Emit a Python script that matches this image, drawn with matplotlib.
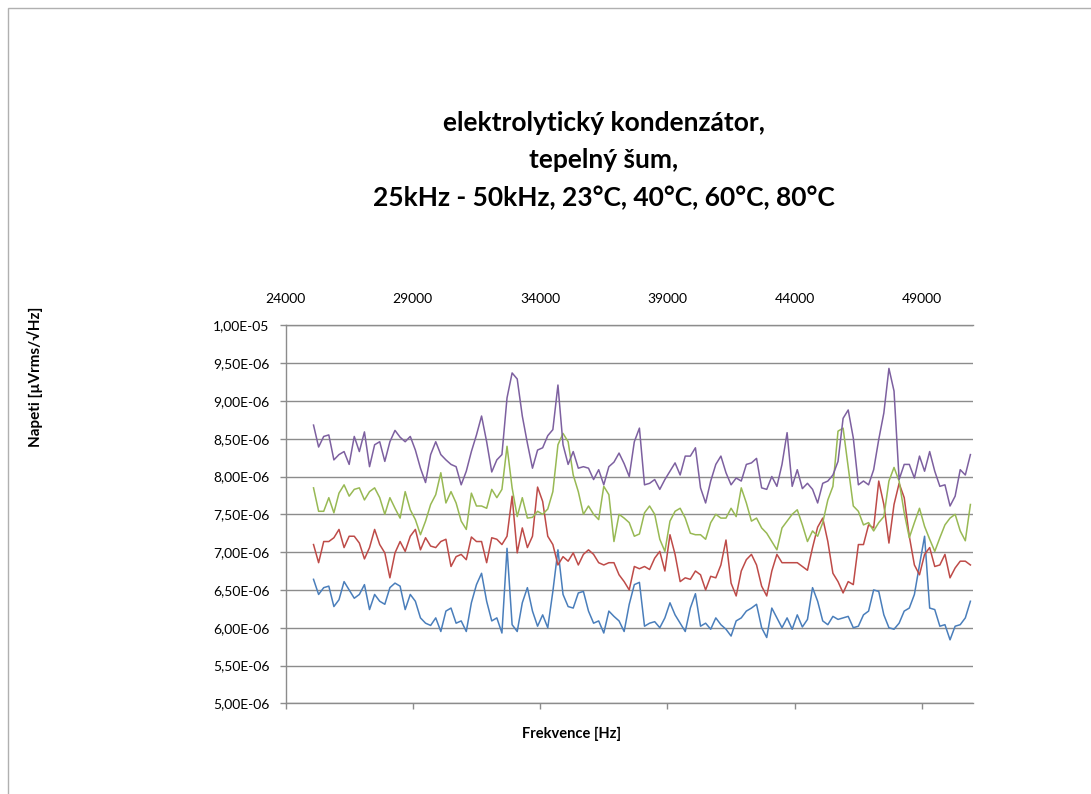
#!/usr/bin/env python3
"""
Thermal noise spectrum of an electrolytic capacitor, 25 kHz - 50 kHz,
measured at four temperatures.
"""

import matplotlib

matplotlib.use("Agg")
import matplotlib.pyplot as plt
import numpy as np
from matplotlib.patches import Rectangle
from matplotlib.ticker import FuncFormatter, MultipleLocator

# Frequency grid of the measurement (Hz)
FREQ_HZ = np.arange(25100, 51000, 200)
FREQ_TICKS = [24000, 29000, 34000, 39000, 44000, 49000]

# Noise density, in units of 1e-6
NOISE_23C = [
    6.64, 6.44, 6.53, 6.55, 6.28, 6.37, 6.61, 6.50, 6.39, 6.44, 6.57, 6.24, 6.44, 6.35, 6.31, 6.53,
    6.59, 6.55, 6.24, 6.44, 6.35, 6.13, 6.06, 6.03, 6.13, 5.95, 6.22, 6.26, 6.06, 6.09, 5.95, 6.33,
    6.57, 6.72, 6.35, 6.09, 6.13, 5.93, 7.05, 6.04, 5.95, 6.33, 6.53, 6.22, 6.02, 6.17, 6.00, 6.48,
    7.03, 6.44, 6.28, 6.26, 6.46, 6.48, 6.22, 6.06, 6.09, 5.93, 6.22, 6.15, 6.09, 5.95, 6.31, 6.57,
    6.60, 6.02, 6.06, 6.08, 6.00, 6.13, 6.33, 6.17, 6.06, 5.95, 6.26, 6.45, 6.02, 6.06, 5.98, 6.13,
    6.04, 5.98, 5.89, 6.09, 6.13, 6.22, 6.26, 6.31, 6.00, 5.87, 6.26, 6.13, 6.00, 6.13, 5.98, 6.17,
    6.01, 6.11, 6.53, 6.35, 6.09, 6.04, 6.15, 6.11, 6.13, 6.15, 6.00, 6.02, 6.17, 6.22, 6.50, 6.48,
    6.17, 6.00, 5.98, 6.06, 6.22, 6.26, 6.44, 6.83, 7.21, 6.26, 6.24, 6.02, 6.04, 5.84, 6.02, 6.04,
    6.13, 6.35,
]
NOISE_40C = [
    7.10, 6.86, 7.14, 7.14, 7.19, 7.30, 7.06, 7.21, 7.21, 7.12, 6.91, 7.06, 7.30, 7.10, 6.99, 6.66,
    6.99, 7.14, 7.01, 7.21, 7.30, 7.03, 7.19, 7.08, 7.06, 7.14, 7.17, 6.81, 6.94, 6.97, 6.90, 7.20,
    7.14, 7.14, 6.86, 7.19, 7.17, 7.10, 7.21, 7.74, 6.99, 7.32, 7.06, 7.21, 7.86, 7.67, 7.21, 7.10,
    6.83, 6.94, 6.88, 6.99, 6.83, 6.97, 7.03, 6.97, 6.86, 6.83, 6.86, 6.86, 6.70, 6.61, 6.50, 6.81,
    6.78, 6.81, 6.77, 6.92, 7.01, 6.75, 7.23, 6.97, 6.61, 6.66, 6.64, 6.75, 6.70, 6.50, 6.68, 6.66,
    6.83, 7.16, 6.59, 6.42, 6.75, 6.90, 6.97, 6.83, 6.55, 6.42, 6.75, 6.97, 6.86, 6.86, 6.86, 6.86,
    6.81, 6.76, 7.06, 7.33, 7.45, 7.14, 6.72, 6.61, 6.46, 6.61, 6.57, 7.10, 7.10, 7.36, 7.32, 7.94,
    7.63, 7.12, 7.63, 7.91, 7.72, 7.21, 6.83, 6.70, 6.97, 7.06, 6.81, 6.83, 6.97, 6.66, 6.79, 6.88,
    6.88, 6.83,
]
NOISE_60C = [
    7.85, 7.54, 7.54, 7.72, 7.52, 7.78, 7.89, 7.74, 7.83, 7.85, 7.69, 7.80, 7.85, 7.72, 7.50, 7.72,
    7.58, 7.45, 7.80, 7.56, 7.43, 7.23, 7.41, 7.63, 7.76, 8.05, 7.65, 7.80, 7.65, 7.41, 7.30, 7.78,
    7.61, 7.61, 7.58, 7.83, 7.72, 7.83, 8.40, 7.85, 7.47, 7.72, 7.45, 7.46, 7.54, 7.50, 7.57, 7.80,
    8.42, 8.57, 8.46, 8.02, 7.80, 7.50, 7.61, 7.50, 7.43, 7.87, 7.76, 7.14, 7.50, 7.45, 7.39, 7.21,
    7.24, 7.52, 7.61, 7.50, 7.17, 7.01, 7.41, 7.54, 7.58, 7.45, 7.25, 7.23, 7.23, 7.17, 7.39, 7.50,
    7.45, 7.45, 7.58, 7.47, 7.85, 7.65, 7.41, 7.45, 7.32, 7.25, 7.14, 7.03, 7.32, 7.41, 7.50, 7.56,
    7.36, 7.14, 7.28, 7.21, 7.39, 7.69, 7.87, 8.60, 8.64, 8.13, 7.61, 7.54, 7.36, 7.39, 7.28, 7.39,
    7.47, 7.94, 8.12, 7.94, 7.52, 7.19, 7.39, 7.58, 7.34, 7.17, 7.01, 7.19, 7.36, 7.45, 7.50, 7.28,
    7.15, 7.63,
]
NOISE_80C = [
    8.68, 8.39, 8.53, 8.55, 8.22, 8.29, 8.33, 8.16, 8.53, 8.33, 8.59, 8.13, 8.42, 8.46, 8.20, 8.46,
    8.61, 8.52, 8.46, 8.53, 8.35, 8.11, 7.92, 8.29, 8.46, 8.29, 8.22, 8.16, 8.13, 7.89, 8.07, 8.33,
    8.55, 8.80, 8.46, 8.06, 8.22, 8.29, 9.04, 9.37, 9.29, 8.80, 8.44, 8.11, 8.35, 8.38, 8.54, 8.62,
    9.21, 8.42, 8.16, 8.33, 8.11, 8.13, 8.11, 7.96, 8.09, 7.89, 8.13, 8.19, 8.31, 8.17, 8.00, 8.46,
    8.64, 7.89, 7.91, 7.96, 7.83, 7.96, 8.07, 8.18, 8.02, 8.27, 8.27, 8.38, 7.85, 7.65, 7.94, 8.16,
    8.27, 8.05, 7.89, 7.98, 7.94, 8.16, 8.18, 8.24, 7.85, 7.83, 8.00, 7.87, 8.16, 8.58, 7.87, 8.09,
    7.84, 7.91, 7.83, 7.65, 7.91, 7.94, 8.02, 8.20, 8.77, 8.88, 8.51, 7.89, 7.94, 7.89, 8.09, 8.49,
    8.84, 9.43, 9.13, 7.96, 8.16, 8.16, 7.98, 8.27, 8.07, 8.33, 8.07, 7.87, 7.89, 7.61, 7.74, 8.09,
    8.02, 8.29,
]
SERIES_LABELS = ["23°C", "40°C", "60°C", "80°C"]
UNIT = 1e-6

TITLE_LINES = [
    "elektrolytický kondenzátor,",
    "tepelný šum,",
    "25kHz - 50kHz, 23°C, 40°C, 60°C, 80°C",
]

COLORS = ["#4A7EBB", "#BE4B48", "#98B954", "#7D60A0"]
GRID_GREY = "#8C8C8C"
FONT = ["Lato", "DejaVu Sans"]


def sci_comma(value: float, _pos: int) -> str:
    """Excel-like scientific label with a decimal comma."""
    return f"{value:.2E}".replace(".", ",")


def main() -> None:
    plt.rcParams["font.family"] = FONT

    fig = plt.figure(figsize=(10.91, 7.94), dpi=100)
    fig.patch.set_facecolor("white")

    # Chart area frame
    fig.add_artist(
        Rectangle(
            (8 / 1091, -0.1),
            1.2,
            1.1 - 8 / 794,
            transform=fig.transFigure,
            fill=False,
            edgecolor="#B0B0B0",
            linewidth=1.0,
        )
    )

    ax = fig.add_axes([0.2617, 0.1142, 0.6301, 0.4761])

    series = [NOISE_23C, NOISE_40C, NOISE_60C, NOISE_80C]
    for values, label, color in zip(series, SERIES_LABELS, COLORS):
        ax.plot(FREQ_HZ, np.asarray(values) * UNIT, color=color, linewidth=1.1, label=label)

    ax.set_xlim(24000, 51000)
    ax.set_ylim(5e-6, 1e-5)
    ax.set_xticks(FREQ_TICKS)
    ax.set_xticklabels([str(t) for t in FREQ_TICKS])
    ax.yaxis.set_major_locator(MultipleLocator(0.5e-6))
    ax.yaxis.set_major_formatter(FuncFormatter(sci_comma))

    ax.yaxis.grid(True, color=GRID_GREY, linewidth=1.0)
    ax.set_axisbelow(True)

    for side in ("left", "bottom", "top"):
        ax.spines[side].set_color(GRID_GREY)
        ax.spines[side].set_linewidth(1.0)
    ax.spines["right"].set_visible(False)

    # Frequency labels sit above the plot, tick marks stay at the bottom
    ax.tick_params(
        axis="x",
        bottom=True,
        top=False,
        labelbottom=False,
        labeltop=True,
        direction="out",
        length=4.5,
        width=1.0,
        color=GRID_GREY,
        pad=10,
        labelsize=10,
    )
    ax.tick_params(
        axis="y",
        direction="out",
        length=4.5,
        width=1.0,
        color=GRID_GREY,
        pad=7,
        labelsize=10,
    )

    title_x = 604 / 1091
    for line, y_px in zip(TITLE_LINES, (123, 160, 198)):
        fig.text(
            title_x,
            1 - y_px / 794,
            line,
            ha="center",
            va="center",
            fontsize=19,
            fontweight="bold",
        )

    fig.text(
        572 / 1091,
        1 - 734 / 794,
        "Frekvence [Hz]",
        ha="center",
        va="center",
        fontsize=10.5,
        fontweight="bold",
    )
    fig.text(
        35 / 1091,
        1 - 377 / 794,
        "Napeti [µVrms/√Hz]",
        ha="center",
        va="center",
        rotation=90,
        fontsize=11,
        fontweight="bold",
    )

    fig.savefig("out.png", dpi=100, facecolor="white")


if __name__ == "__main__":
    main()
